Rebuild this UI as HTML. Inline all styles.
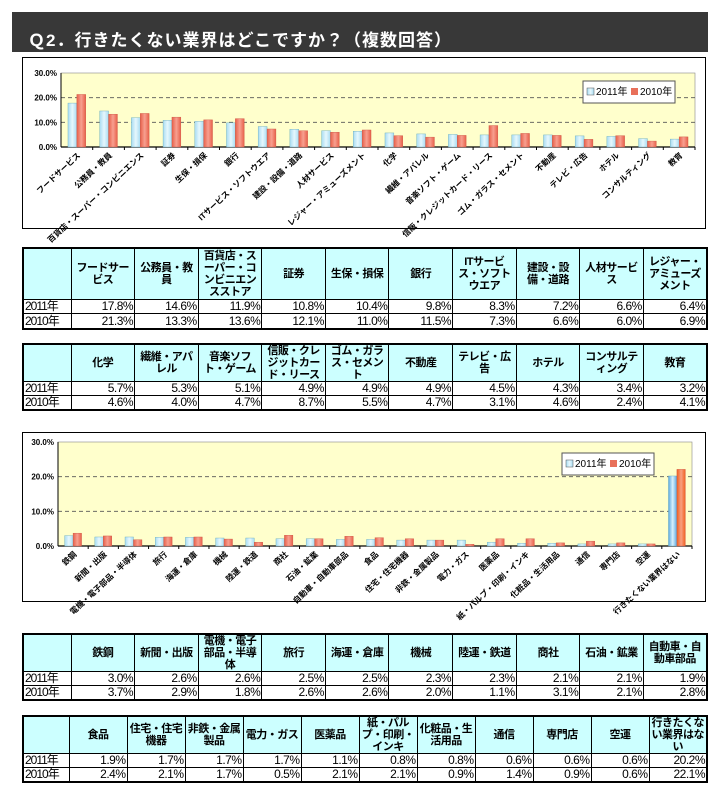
<!DOCTYPE html>
<html><head><meta charset="utf-8"><style>
body{margin:0;width:728px;height:790px;background:#fff;font-family:"Liberation Sans","Noto Sans CJK JP",sans-serif;position:relative;overflow:hidden}
.title{position:absolute;left:12px;top:12px;width:696px;height:40px;background:#383838;color:#fff;font-size:17px;font-weight:bold;box-sizing:border-box;padding:14px 0 0 16px;letter-spacing:1px}
.box{position:absolute;left:22px;width:684px;border:1px solid #000;box-sizing:border-box}
table{position:absolute;left:22px;width:686px;border-collapse:collapse;table-layout:fixed;border:2px solid #000}
td{border:1px solid #000;font-size:11px;padding:0 1px;line-height:12px;letter-spacing:-0.5px}
tr.h td{background:#ccffff;text-align:center;font-weight:bold;font-size:11px}
tr.d td{text-align:right;font-size:12px;line-height:13px;padding:0 1px;white-space:nowrap}
tr.d td:first-child{text-align:left;font-size:12px;letter-spacing:-1px;overflow:hidden}
svg text{font-family:"Liberation Sans","Noto Sans CJK JP",sans-serif}
</style></head><body>
<div class="title">Ｑ2．行きたくない業界はどこですか？（複数回答）</div>
<div class="box" style="top:57px;height:172px"></div>
<div class="box" style="top:432px;height:170px"></div>
<svg id="s" width="728" height="790" style="position:absolute;left:0;top:0">
<defs>
<linearGradient id="gb" x1="0" x2="1"><stop offset="0" stop-color="#a8dcf2"/><stop offset=".5" stop-color="#e6f7fd"/><stop offset="1" stop-color="#a8dcf2"/></linearGradient>
<linearGradient id="gr" x1="0" x2="1"><stop offset="0" stop-color="#e8604a"/><stop offset=".5" stop-color="#f7a090"/><stop offset="1" stop-color="#e8604a"/></linearGradient>
<linearGradient id="gb2" x1="0" x2="1"><stop offset="0" stop-color="#5aa8e0"/><stop offset=".5" stop-color="#d8f0fc"/><stop offset="1" stop-color="#5aa8e0"/></linearGradient>
<linearGradient id="gr2" x1="0" x2="1"><stop offset="0" stop-color="#f06020"/><stop offset=".5" stop-color="#f8a080"/><stop offset="1" stop-color="#f06020"/></linearGradient>
</defs>
<g id="c1"></g><g id="c2"></g>
</svg>
<table style="top:247px;height:83px"><colgroup><col style="width:48px"><col span="10"></colgroup>
<tr class="h" style="height:51px"><td></td><td>フードサービス</td><td>公務員・教員</td><td>百貨店・スーパー・コンビニエンスストア</td><td>証券</td><td>生保・損保</td><td>銀行</td><td>ITサービス・ソフトウエア</td><td>建設・設備・道路</td><td>人材サービス</td><td>レジャー・アミューズメント</td></tr>
<tr class="d"><td>2011年</td><td>17.8%</td><td>14.6%</td><td>11.9%</td><td>10.8%</td><td>10.4%</td><td>9.8%</td><td>8.3%</td><td>7.2%</td><td>6.6%</td><td>6.4%</td></tr>
<tr class="d"><td>2010年</td><td>21.3%</td><td>13.3%</td><td>13.6%</td><td>12.1%</td><td>11.0%</td><td>11.5%</td><td>7.3%</td><td>6.6%</td><td>6.0%</td><td>6.9%</td></tr></table>
<table style="top:343px;height:58px"><colgroup><col style="width:48px"><col span="10"></colgroup>
<tr class="h" style="height:30px"><td></td><td>化学</td><td>繊維・アパレル</td><td>音楽ソフト・ゲーム</td><td>信販・クレジットカード・リース</td><td>ゴム・ガラス・セメント</td><td>不動産</td><td>テレビ・広告</td><td>ホテル</td><td>コンサルティング</td><td>教育</td></tr>
<tr class="d"><td>2011年</td><td>5.7%</td><td>5.3%</td><td>5.1%</td><td>4.9%</td><td>4.9%</td><td>4.9%</td><td>4.5%</td><td>4.3%</td><td>3.4%</td><td>3.2%</td></tr>
<tr class="d"><td>2010年</td><td>4.6%</td><td>4.0%</td><td>4.7%</td><td>8.7%</td><td>5.5%</td><td>4.7%</td><td>3.1%</td><td>4.6%</td><td>2.4%</td><td>4.1%</td></tr></table>
<table style="top:633px;height:59px"><colgroup><col style="width:48px"><col span="10"></colgroup>
<tr class="h" style="height:33px"><td></td><td>鉄鋼</td><td>新聞・出版</td><td>電機・電子部品・半導体</td><td>旅行</td><td>海運・倉庫</td><td>機械</td><td>陸運・鉄道</td><td>商社</td><td>石油・鉱業</td><td>自動車・自動車部品</td></tr>
<tr class="d"><td>2011年</td><td>3.0%</td><td>2.6%</td><td>2.6%</td><td>2.5%</td><td>2.5%</td><td>2.3%</td><td>2.3%</td><td>2.1%</td><td>2.1%</td><td>1.9%</td></tr>
<tr class="d"><td>2010年</td><td>3.7%</td><td>2.9%</td><td>1.8%</td><td>2.6%</td><td>2.6%</td><td>2.0%</td><td>1.1%</td><td>3.1%</td><td>2.1%</td><td>2.8%</td></tr></table>
<table style="top:715px;height:65px"><colgroup><col style="width:46px"><col span="11"></colgroup>
<tr class="h" style="height:37px"><td></td><td>食品</td><td>住宅・住宅機器</td><td>非鉄・金属製品</td><td>電力・ガス</td><td>医薬品</td><td>紙・パルプ・印刷・インキ</td><td>化粧品・生活用品</td><td>通信</td><td>専門店</td><td>空運</td><td>行きたくない業界はない</td></tr>
<tr class="d"><td>2011年</td><td>1.9%</td><td>1.7%</td><td>1.7%</td><td>1.7%</td><td>1.1%</td><td>0.8%</td><td>0.8%</td><td>0.6%</td><td>0.6%</td><td>0.6%</td><td>20.2%</td></tr>
<tr class="d"><td>2010年</td><td>2.4%</td><td>2.1%</td><td>1.7%</td><td>0.5%</td><td>2.1%</td><td>2.1%</td><td>0.9%</td><td>1.4%</td><td>0.9%</td><td>0.6%</td><td>22.1%</td></tr></table>
<script>
function chart(g,o){
 var s='',L=o.x0,R=o.x1,T=o.top,B=o.bot,k=(B-T)/30;
 s+='<rect x="'+L+'" y="'+T+'" width="'+(R-L)+'" height="'+(B-T)+'" fill="#ffffcc" stroke="#888" stroke-width="0.6"/>';
 [10,20].forEach(function(v){var y=B-v*k;s+='<line x1="'+L+'" x2="'+R+'" y1="'+y+'" y2="'+y+'" stroke="#555" stroke-dasharray="4,3" stroke-width="0.8"/>';});
 [0,10,20,30].forEach(function(v){var y=B-v*k;s+='<text x="'+(L-4)+'" y="'+(y+3)+'" font-size="8" font-weight="bold" text-anchor="end">'+v+'.0%</text>';});
 s+='<line x1="'+L+'" x2="'+R+'" y1="'+B+'" y2="'+B+'" stroke="#000" stroke-width="1.2"/><line x1="'+L+'" x2="'+L+'" y1="'+T+'" y2="'+B+'" stroke="#000"/>';
 var n=o.l.length,w=(R-L)/n,bw=w*0.28;
 for(var i=0;i<n;i++){var cx=L+w*(i+0.5);
  var last=o.big&&i==n-1;
  var h1=o.a[i]*k,h2=o.b[i]*k;
  s+='<rect x="'+(cx-bw)+'" y="'+(B-h1)+'" width="'+bw+'" height="'+h1+'" fill="url(#'+(last?'gb2':'gb')+')" stroke="#6ab" stroke-width="0.4"/>';
  s+='<rect x="'+cx+'" y="'+(B-h2)+'" width="'+bw+'" height="'+h2+'" fill="url(#'+(last?'gr2':'gr')+')" stroke="#c54" stroke-width="0.4"/>';
  s+='<line x1="'+(L+w*(i+1))+'" x2="'+(L+w*(i+1))+'" y1="'+B+'" y2="'+(B+3)+'" stroke="#000"/>';
  s+='<text transform="translate('+(cx+4)+','+(B+9)+') rotate(-43)" font-size="8" font-weight="bold" text-anchor="end">'+o.l[i]+'</text>';}
 var lx=o.lx,ly=o.ly;
 s+='<rect x="'+lx+'" y="'+ly+'" width="92" height="22" fill="#fff" stroke="#555"/>';
 s+='<rect x="'+(lx+4)+'" y="'+(ly+7)+'" width="7" height="7" fill="url(#gb)" stroke="#555" stroke-width="0.5"/><text x="'+(lx+13)+'" y="'+(ly+14)+'" font-size="10">2011年</text>';
 s+='<rect x="'+(lx+48)+'" y="'+(ly+7)+'" width="7" height="7" fill="#e8705a"/><text x="'+(lx+57)+'" y="'+(ly+14)+'" font-size="10">2010年</text>';
 document.getElementById(g).innerHTML=s;}
chart('c1',{x0:61,x1:695,top:73,bot:147,lx:583,ly:81,
 l:['フードサービス','公務員・教員','百貨店・スーパー・コンビニエンス','証券','生保・損保','銀行','ITサービス・ソフトウエア','建設・設備・道路','人材サービス','レジャー・アミューズメント','化学','繊維・アパレル','音楽ソフト・ゲーム','信販・クレジットカード・リース','ゴム・ガラス・セメント','不動産','テレビ・広告','ホテル','コンサルティング','教育'],
 a:[17.8,14.6,11.9,10.8,10.4,9.8,8.3,7.2,6.6,6.4,5.7,5.3,5.1,4.9,4.9,4.9,4.5,4.3,3.4,3.2],
 b:[21.3,13.3,13.6,12.1,11.0,11.5,7.3,6.6,6.0,6.9,4.6,4.0,4.7,8.7,5.5,4.7,3.1,4.6,2.4,4.1]});
chart('c2',{x0:58,x1:692,top:442,bot:546,lx:562,ly:453,big:1,
 l:['鉄鋼','新聞・出版','電機・電子部品・半導体','旅行','海運・倉庫','機械','陸運・鉄道','商社','石油・鉱業','自動車・自動車部品','食品','住宅・住宅機器','非鉄・金属製品','電力・ガス','医薬品','紙・パルプ・印刷・インキ','化粧品・生活用品','通信','専門店','空運','行きたくない業界はない'],
 a:[3.0,2.6,2.6,2.5,2.5,2.3,2.3,2.1,2.1,1.9,1.9,1.7,1.7,1.7,1.1,0.8,0.8,0.6,0.6,0.6,20.2],
 b:[3.7,2.9,1.8,2.6,2.6,2.0,1.1,3.1,2.1,2.8,2.4,2.1,1.7,0.5,2.1,2.1,0.9,1.4,0.9,0.6,22.1]});
</script>
</body></html>
